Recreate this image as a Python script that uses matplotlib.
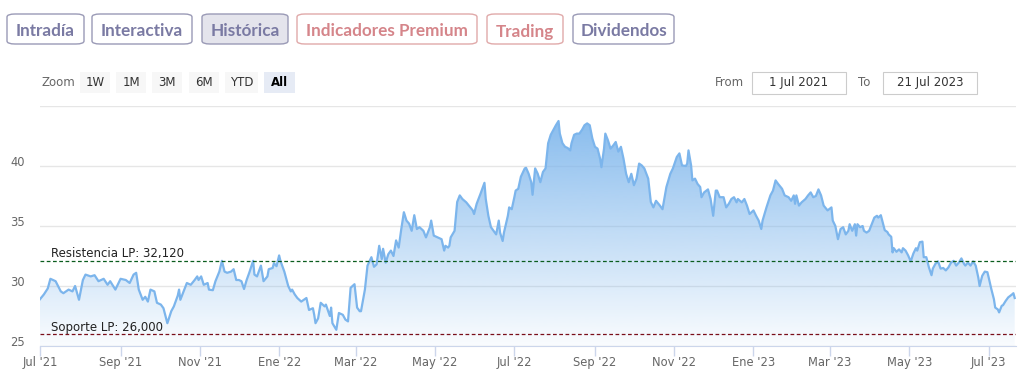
import numpy as np
import pandas as pd
import matplotlib
matplotlib.use("Agg")
import matplotlib.pyplot as plt
import matplotlib.dates as mdates
from matplotlib.patches import FancyBboxPatch, Rectangle

# ---- data ----
start = pd.Timestamp("2021-07-01")
end = pd.Timestamp("2023-07-21")

# days since 1 Jul 2021
days = [
    0, 3, 6, 8, 12, 16, 18, 22, 25, 27, 30, 33, 35, 39, 42, 45, 49, 52, 54, 58,
    62, 66, 69, 72, 74, 76, 79, 81, 83, 85, 88, 90, 93, 95, 98, 101, 103,
    106, 107, 108, 111, 113, 116, 119, 121, 122, 124, 126, 129, 130, 133, 135,
    138, 140, 142, 144, 147, 149, 151, 153, 155, 157, 159, 161, 164, 165, 167,
    170, 172, 175, 176, 179, 180, 182, 184, 185, 188, 191, 193, 194, 196, 198,
    201, 203, 205, 207, 210, 211, 212,
    214, 216, 219, 220, 223, 224, 225, 228, 230, 233, 235, 237, 239, 242, 244,
    246, 247, 250, 252, 255, 257, 259, 261, 263, 264, 266, 268, 270, 272, 274,
    276, 278, 280, 282, 284, 286, 288, 290, 292, 295, 297, 300, 301, 303, 306,
    309, 311, 312, 314, 315, 316, 319, 321, 323,
    325, 328, 330, 333, 334, 336, 339, 342, 343, 345, 347, 350, 351, 353, 354,
    356, 357, 360, 361, 363, 365, 366, 368, 370, 373, 374, 376, 378, 379, 381,
    383, 385, 387, 389, 391, 393, 395, 397, 399, 400, 402, 404, 406, 408, 409,
    411, 413, 415, 417, 419, 421, 423, 425, 427,
    429, 431, 432, 434, 435, 437, 439, 441, 443, 445, 447, 449, 451, 453, 455,
    457, 459, 461, 463, 465, 468, 470, 472, 474, 477, 479, 482, 485, 487, 490,
    492, 494, 497, 498, 499, 501, 502, 504, 506, 508, 509, 511, 514, 516, 518,
    520, 521, 523, 526, 528, 530, 532, 534, 536,
    537, 540, 542, 544, 546, 549, 551, 553, 555, 556, 559, 562, 564, 566, 568,
    571, 573, 576, 578, 580, 581, 582, 584, 586, 589, 591, 593, 595, 597, 599,
    601, 603, 606, 609, 610, 612, 614, 616, 618, 620, 622, 623, 625, 627, 628,
    629, 631, 633, 634, 636, 638, 640, 642, 644, 645, 647,
    649, 650, 652, 653, 655, 656, 657, 659, 661, 663, 664, 666, 668, 670, 672,
    674, 675, 677, 679, 680, 682, 684, 686, 687, 689, 691, 693, 695, 697, 699,
    701, 703, 705, 707, 709, 711, 712, 714, 716, 718, 720, 722, 723, 725, 727,
    729, 730, 732, 734, 735, 737, 738, 740, 741, 743, 745, 748, 749, 750,
]

prices = [
    28.9, 29.3, 29.8, 30.6, 30.4, 29.55, 29.4, 29.7, 29.55, 30.0, 28.85, 30.5,
    30.95, 30.8, 30.9, 30.4, 30.6, 30.1, 30.4, 29.7, 30.6, 30.5, 30.25, 30.95,
    31.1, 29.7, 28.85, 29.1, 28.7, 29.7, 29.55, 28.6, 28.45, 28.15, 26.9, 27.9,
    28.3,
    29.2, 29.7, 28.85, 29.7, 30.25, 30.1, 30.5, 30.8, 30.5, 30.8, 30.1, 30.25,
    29.7, 29.65, 30.4, 31.2, 32.1, 31.2, 31.1, 31.2, 31.4, 30.5, 30.5, 30.4,
    29.75, 30.5, 31.1, 32.1, 30.95, 30.8, 31.7, 30.4, 30.8, 31.4, 31.5, 31.9,
    31.65, 32.55, 32.1, 31.2, 30.0, 29.55, 29.7, 29.3, 29.0, 28.7, 28.85, 29.0,
    28.0, 28.15, 27.6, 26.9,
    27.3, 28.6, 28.3, 28.45, 27.5, 28.2, 26.9, 26.35, 27.75, 27.6, 27.2, 27.05,
    29.85, 30.15, 28.2, 27.9, 27.9, 29.7, 31.7, 32.4, 31.6, 31.8, 33.35, 32.25,
    33.1, 31.95, 32.65, 32.95, 32.5, 33.8, 33.2, 34.75, 36.15, 35.45, 35.2,
    34.6, 35.9, 34.75, 34.9, 34.6, 34.05, 34.9, 35.45, 34.2, 34.05, 33.9, 32.95,
    33.35, 33.2, 33.35, 34.05, 34.6, 37.0, 37.55,
    37.25, 36.97, 36.7, 36.3, 36.0, 36.85, 37.7, 38.6, 37.25, 35.85, 34.9,
    34.45, 34.3, 35.45, 34.45, 33.75, 34.45, 35.85, 36.55, 36.4, 37.4, 37.95,
    38.1, 39.1, 39.8, 39.85, 39.35, 38.65, 37.6, 39.8, 39.35, 38.65, 39.5, 39.8,
    41.9, 42.6, 43.0, 43.4, 43.75, 42.7, 41.9, 41.6, 41.5, 41.3, 41.9, 42.6,
    42.7, 42.7, 43.0, 43.4, 43.55, 43.4, 42.3, 41.6,
    41.45, 40.6, 39.9, 41.45, 42.7, 42.15, 41.45, 41.7, 42.0, 41.2, 41.6, 40.6,
    39.35, 38.65, 39.35, 38.4, 38.95, 40.2, 40.05, 39.8, 38.95, 37.0, 36.55,
    37.1, 36.7, 36.4, 38.25, 39.35, 39.8, 40.75, 41.05, 40.05, 40.0, 40.2, 41.3,
    40.05, 38.8, 38.95, 38.5, 38.25, 37.4, 37.8, 38.05, 37.25, 35.85, 37.95,
    37.95, 37.4, 37.4, 36.55, 36.85, 37.25, 37.4, 36.97,
    37.25, 36.97, 37.25, 36.7, 36.0, 36.3, 35.85, 35.45, 34.75, 35.45, 36.55,
    37.55, 37.95, 38.8, 38.5, 38.1, 37.55, 37.4, 37.1, 37.55, 36.85, 37.55,
    36.7, 36.97, 37.25, 37.55, 37.8, 37.4, 37.5, 38.05, 37.55, 36.7, 36.3,
    36.55, 35.45, 35.0, 33.9, 34.75, 34.9, 34.3, 34.6, 35.15, 34.6, 35.15, 34.2,
    35.15, 34.9, 35.0, 34.6, 34.45, 34.6, 35.15, 35.7, 35.85, 35.7, 35.9,
    35.05, 34.65, 34.5, 34.3, 34.1, 32.8, 33.15, 32.85, 33.05, 32.8, 33.15,
    32.95, 32.55, 32.05, 32.7, 33.15, 32.95, 33.65, 33.7, 32.4, 32.4, 31.55,
    30.9, 31.45, 31.85, 32.05, 31.45, 31.5, 31.3, 31.55, 31.95, 32.1, 31.7,
    31.95, 32.3, 31.85, 31.7, 31.95, 31.7, 32.05, 31.7, 30.7, 30.0, 30.85, 31.2,
    31.15, 30.7, 29.75, 28.9, 28.2, 28.05, 27.8, 28.35, 28.4, 28.75, 29.05,
    29.3, 29.4, 29.0,
]

resistance = 32.12
support = 26.0
y_ticks = [25, 30, 35, 40, 45]
y_labels = ["25", "30", "35", "40", ""]
x_tick_labels = ["Jul '21", "Sep '21", "Nov '21", "Ene '22", "Mar '22", "May '22",
                 "Jul '22", "Sep '22", "Nov '22", "Ene '23", "Mar '23", "May '23",
                 "Jul '23"]
tabs = ["Intradía", "Interactiva", "Histórica", "Indicadores Premium", "Trading", "Dividendos"]
zoom_opts = ["1W", "1M", "3M", "6M", "YTD", "All"]
date_from = "1 Jul 2021"
date_to = "21 Jul 2023"

W, H = 1025, 382
fig = plt.figure(figsize=(W / 100, H / 100), dpi=100)
fig.patch.set_facecolor("white")


def fx(x):
    return x / W


def fy(y):
    return 1 - y / H


def box(x0, y0, x1, y1, fc, ec, r=3, lw=1.0):
    p = FancyBboxPatch((fx(x0), fy(y1)), fx(x1 - x0), (y1 - y0) / H,
                       boxstyle=f"round,pad=0,rounding_size={r / H}",
                       transform=fig.transFigure, fc=fc, ec=ec, lw=lw)
    fig.add_artist(p)


# ---- tab buttons on top ----
tab_pos = [(7, 84), (92, 192), (202, 288), (297, 477), (487, 563), (573, 674)]
for name, (x0, x1) in zip(tabs, tab_pos):
    red = name in ("Indicadores Premium", "Trading")
    txt_c = "#d5858a" if red else "#7a7aa3"
    edge = "#e0a9a9" if red else "#9a9ab6"
    face = "#e4e4ec" if name == "Histórica" else "white"
    box(x0, 14, x1, 44, face, edge)
    fig.text(fx((x0 + x1) / 2), fy(30), name, ha="center", va="center_baseline",
             fontsize=12.3, fontweight="bold", color=txt_c, family="Lato")

# ---- range selector row ----
narrow = ["Liberation Sans Narrow", "DejaVu Sans"]
fig.text(fx(42), fy(83), "Zoom", ha="left", va="center", fontsize=8.5,
         color="#666666", family=narrow)
zoom_x = [80, 116, 152, 189, 225, 264]
zoom_w = [30, 30, 30, 30, 33, 31]
for lab, x0, w in zip(zoom_opts, zoom_x, zoom_w):
    sel = lab == "All"
    fig.add_artist(Rectangle((fx(x0), fy(93)), fx(w), 21 / H, transform=fig.transFigure,
                             fc="#e6ebf5" if sel else "#f7f7f7", ec="none"))
    fig.text(fx(x0 + w / 2), fy(82.5), lab, ha="center", va="center", fontsize=8.5,
             color="#000000" if sel else "#333333", family=narrow,
             fontweight="bold" if sel else "normal")

fig.text(fx(715), fy(82.5), "From", ha="left", va="center", fontsize=8.5,
         color="#666666", family=narrow)
fig.add_artist(Rectangle((fx(752), fy(94)), fx(94), 22 / H, transform=fig.transFigure,
                         fc="white", ec="#cccccc", lw=0.8))
fig.text(fx(799), fy(82.5), date_from, ha="center", va="center", fontsize=8.5,
         color="#333333", family=narrow)
fig.text(fx(858), fy(82.5), "To", ha="left", va="center", fontsize=8.5,
         color="#666666", family=narrow)
fig.add_artist(Rectangle((fx(883), fy(94)), fx(94), 22 / H, transform=fig.transFigure,
                         fc="white", ec="#cccccc", lw=0.8))
fig.text(fx(930), fy(82.5), date_to, ha="center", va="center", fontsize=8.5,
         color="#333333", family=narrow)

# ---- main chart ----
ax = fig.add_axes([fx(40), fy(346), fx(1016 - 40), (346 - 106) / H])
dates = start + pd.to_timedelta(days, unit="D")
xs = mdates.date2num(dates)
x0 = mdates.date2num(start)
x1 = mdates.date2num(end + pd.Timedelta(days=1))

ax.set_xlim(x0, x1)
ax.set_ylim(25, 45)

# gradient area under the line
poly = ax.fill_between(xs, prices, 25, color="none", lw=0)
n = 256
alpha = np.linspace(0.95, 0.04, n)
grad = np.zeros((n, 1, 4))
grad[:, 0, 0] = 124 / 255
grad[:, 0, 1] = 181 / 255
grad[:, 0, 2] = 236 / 255
grad[:, 0, 3] = alpha
im = ax.imshow(grad, extent=[x0, x1, 25, 45], aspect="auto", origin="upper",
               zorder=1, interpolation="bilinear")
im.set_clip_path(poly.get_paths()[0], transform=ax.transData)

ax.plot(xs, prices, color="#7cb5ec", lw=1.6, zorder=3, solid_joinstyle="round")

# support / resistance
ax.axhline(resistance, color="#0b5d1e", lw=0.9, ls=(0, (3, 2)), zorder=4)
ax.axhline(support, color="#7a0f1a", lw=0.9, ls=(0, (3, 2)), zorder=4)
ax.annotate(f"Resistencia LP: {resistance:.3f}".replace(".", ","), (x0, resistance),
            xytext=(8, 2.5), textcoords="offset points", fontsize=8.5, color="#222222",
            va="baseline", ha="left", zorder=5)
ax.annotate(f"Soporte LP: {support:.3f}".replace(".", ","), (x0, support),
            xytext=(8, 2.5), textcoords="offset points", fontsize=8.5, color="#222222",
            va="baseline", ha="left", zorder=5)

# axes styling
ax.set_yticks(y_ticks)
ax.set_yticklabels(y_labels)
ax.grid(axis="y", color="#e6e6e6", lw=1, zorder=0)
ax.set_axisbelow(True)
tick_dates = pd.date_range(start, periods=len(x_tick_labels), freq="2MS")
ax.set_xticks(mdates.date2num(tick_dates))
ax.set_xticklabels(x_tick_labels)
for s in ("top", "right", "left"):
    ax.spines[s].set_visible(False)
ax.spines["bottom"].set_color("#ccd6eb")
ax.tick_params(axis="x", length=7, width=1, color="#ccd6eb", pad=0.5,
               labelsize=8.3, labelcolor="#666666")
ax.tick_params(axis="y", length=0, pad=11, labelsize=8.3, labelcolor="#666666")
for lbl in ax.get_yticklabels():
    lbl.set_va("baseline")

fig.savefig("out.png", dpi=100, facecolor="white")
